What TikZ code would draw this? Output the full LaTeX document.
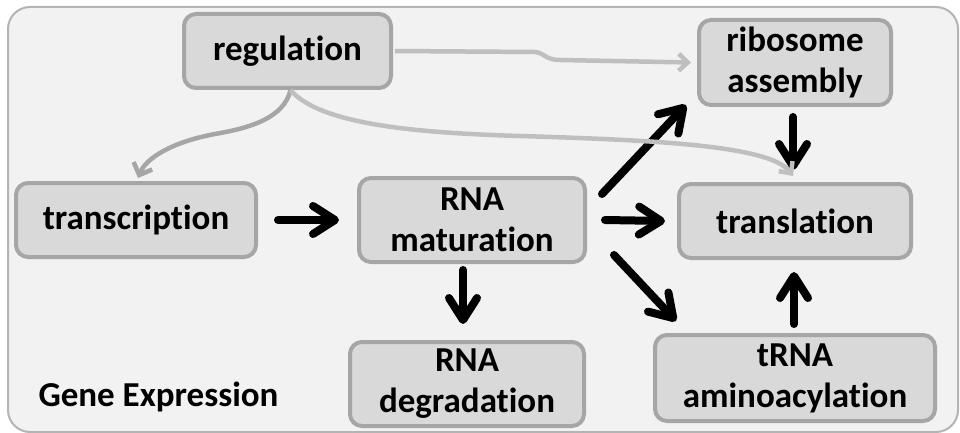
\documentclass[tikz,border=0pt]{standalone}
\usepackage{fontspec}
\setmainfont{Carlito}[Ligatures=NoCommon]
\usetikzlibrary{arrows.meta}
\definecolor{panelfill}{HTML}{F2F2F2}
\definecolor{panelline}{HTML}{B4B4B4}
\definecolor{boxfill}{HTML}{D9D9D9}
\definecolor{boxline}{HTML}{A6A6A6}
\definecolor{reglight}{HTML}{BFBFBF}
\tikzset{
  labelfont/.style={font=\fontsize{35}{41}\selectfont\bfseries},
  procbox/.style={labelfont, draw=boxline, fill=boxfill, line width=4pt,
    rounded corners=12pt, align=center, inner sep=0pt},
  flow/.style={line width=8pt, line cap=round, black,
    -{Straight Barb[round, length=22pt, width=28pt]}},
  regdark/.style={line width=4.5pt, boxline,
    -{Straight Barb[length=10pt, width=20pt]}},
  reglite/.style={line width=4.5pt, reglight,
    -{Straight Barb[length=9pt, width=17pt]}},
}
\begin{document}
\begin{tikzpicture}[x=1pt, y=-1pt]
  \useasboundingbox (0,0) rectangle (960,433);
  % panel
  \draw[fill=panelfill, draw=panelline, line width=2pt, rounded corners=22pt]
    (8,7) rectangle (958,432);
  \node[labelfont, anchor=west] (title) at (35,397) {Gene Expression};

  % process boxes
  \node[procbox, minimum width=207pt, minimum height=74pt] (reg) at (287.5,51) {regulation};
  \node[procbox, minimum width=240pt, minimum height=74pt] (tsc) at (136,220) {transcription};
  \node[procbox, minimum width=226pt, minimum height=84pt] (mat) at (472,220) {RNA\\maturation};
  \node[procbox, minimum width=234pt, minimum height=84pt] (deg) at (467,384) {RNA\\degradation};
  \node[procbox, minimum width=192pt, minimum height=85pt] (rib) at (795,62.5) {ribosome\\assembly};
  \node[procbox, minimum width=232pt, minimum height=74pt] (trl) at (795,221) {translation};
  \node[procbox, minimum width=280pt, minimum height=86pt] (trna) at (795,378) {tRNA\\aminoacylation};

  % main flow (shifts are in canvas units: positive y is up)
  \draw[flow] ([xshift=20pt]tsc.east) -- ([xshift=-18pt]mat.west);
  \draw[flow] ([xshift=18pt]mat.east) -- ([xshift=-12pt]trl.west);
  \draw[flow] ([shift={(15pt,26pt)}]mat.east) -- ([shift={(-11pt,2pt)}]rib.south west);
  \draw[flow] ([shift={(27pt,-35pt)}]mat.east) -- ([shift={(23pt,12pt)}]trna.north west);
  \draw[flow] ([shift={(-9pt,-6pt)}]mat.south) -- ([shift={(-4pt,16pt)}]deg.north);
  \draw[flow] ([shift={(-2pt,-10pt)}]rib.south) -- ([shift={(-2pt,12pt)}]trl.north);
  \draw[flow] ([shift={(-1pt,9pt)}]trna.north) -- ([shift={(-1pt,-12pt)}]trl.south);

  % regulatory influences
  \draw[regdark] ([xshift=3pt]reg.south)
    .. controls (284,118) and (250,128) .. (215,134)
    .. controls (172,142) and (146,158) .. ([shift={(2pt,3pt)}]tsc.north);
  \draw[reglite] ([xshift=2pt]reg.east) -- (535,52)
    .. controls (545,53) and (545,60) .. (560,60) -- ([xshift=-6pt]rib.west);
  \draw[reglite] ([xshift=3pt]reg.south)
    .. controls (320,125) and (420,133) .. (520,136)
    .. controls (650,140) and (770,145) .. ([shift={(-2pt,6pt)}]trl.north);
\end{tikzpicture}
\end{document}
